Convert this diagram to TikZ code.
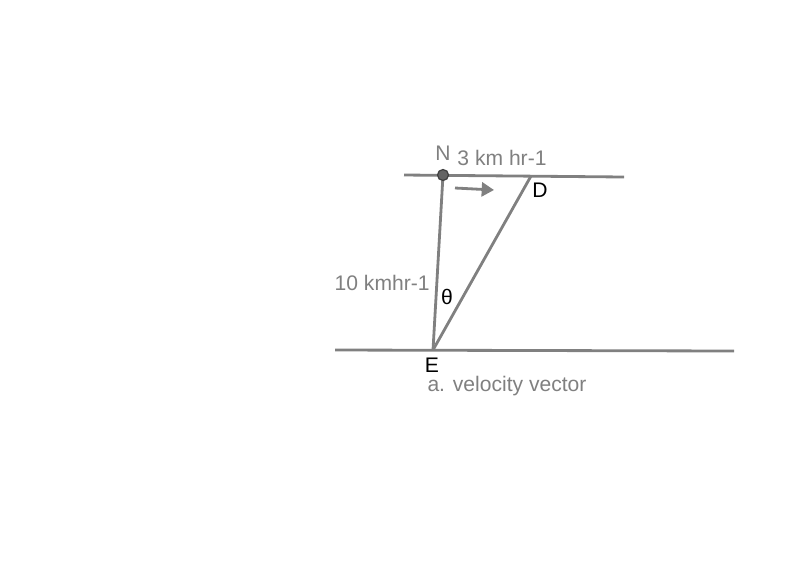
\documentclass[tikz,border=0pt]{standalone}
\usepackage{fontspec}
\setmainfont{Liberation Sans}
\usetikzlibrary{arrows.meta,positioning}
\definecolor{linegray}{RGB}{128,128,128}
\definecolor{dotgray}{RGB}{100,100,100}
\begin{document}
\begin{tikzpicture}[x=0.02cm,y=-0.02cm,line width=1.6pt,font=\fontsize{12}{14}\selectfont]
  \tikzset{bank/.style={draw=linegray},
           side/.style={draw=linegray},
           glabel/.style={text=linegray,inner sep=0pt},
           blabel/.style={text=black,inner sep=0pt}}
  \useasboundingbox (0,0) rectangle (800,579);
  % banks of the river
  \coordinate (TL) at (404,175);
  \coordinate (TR) at (624,177);
  \coordinate (BL) at (335,350);
  \coordinate (BR) at (734,351);
  \coordinate (N) at (443,175);
  \coordinate (D) at (531,176);
  \coordinate (E) at (433,350);
  \coordinate (A1) at (455,188);
  \coordinate (A2) at (494,190);

  \path[bank] (TL) edge (TR)
              (BL) edge (BR);
  \path[side] (N) edge (E)
              (D) edge (E);
  \draw[linegray,-{Triangle[length=7pt,width=8pt]}] (A1) -- (A2);
  \node[circle,draw=black!75,line width=0.7pt,fill=dotgray,minimum size=0.22cm,inner sep=0pt] (Ndot) at (N) {};

  \node[glabel] (Nlab) at (443,153) {N};
  \node[glabel] (vb)   at (502,158) {3 km hr-1};
  \node[blabel] (Dlab) at (540,190) {D};
  \node[glabel,anchor=east] (vm) at (431,283) {10 kmhr-1};
  \node[blabel] (th)   at (447,297) {θ};
  \node[blabel] (Elab) at (432,365) {E};
  \node[glabel] (cap)  at (507,386) {a. velocity vector};
\end{tikzpicture}
\end{document}
